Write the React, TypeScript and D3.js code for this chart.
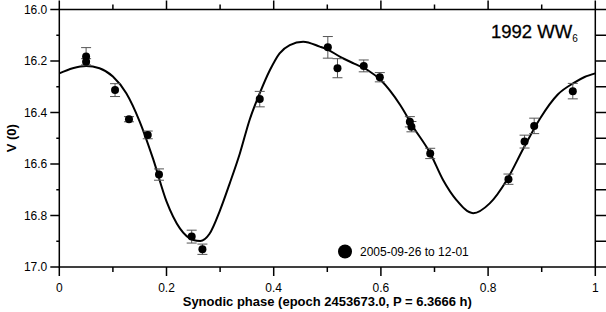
import React from 'react';
import * as d3 from 'd3';

// observed points: phase, reduced magnitude, error
const phases = [0.05, 0.05, 0.104, 0.13, 0.165, 0.186, 0.247, 0.267, 0.374, 0.501, 0.519, 0.568, 0.598, 0.654, 0.657, 0.692, 0.838, 0.868, 0.886, 0.958];
const mags = [16.183, 16.203, 16.313, 16.426, 16.487, 16.641, 16.882, 16.931, 16.348, 16.147, 16.228, 16.219, 16.263, 16.436, 16.455, 16.559, 16.659, 16.513, 16.452, 16.317];
const errs = [0.035, 0.012, 0.025, 0.01, 0.015, 0.022, 0.025, 0.02, 0.03, 0.042, 0.037, 0.023, 0.018, 0.02, 0.02, 0.02, 0.02, 0.025, 0.03, 0.03];

// fourier fit curve
const fitPhase = [0, 0.025, 0.05, 0.075, 0.1, 0.125, 0.15, 0.175, 0.2, 0.225, 0.25, 0.263, 0.28, 0.3, 0.318, 0.337, 0.355, 0.374, 0.393, 0.411, 0.43, 0.455, 0.486, 0.5, 0.525, 0.55, 0.575, 0.6, 0.636, 0.66, 0.692, 0.716, 0.741, 0.772, 0.803, 0.835, 0.866, 0.897, 0.93, 0.96, 0.98, 1];
const fitMag = [16.248, 16.228, 16.219, 16.228, 16.26, 16.325, 16.435, 16.58, 16.745, 16.85, 16.895, 16.899, 16.872, 16.779, 16.675, 16.558, 16.429, 16.325, 16.235, 16.17, 16.138, 16.125, 16.144, 16.155, 16.185, 16.21, 16.235, 16.275, 16.371, 16.455, 16.558, 16.662, 16.74, 16.791, 16.753, 16.662, 16.539, 16.423, 16.33, 16.285, 16.262, 16.248];

const xMajor = [0, 0.2, 0.4, 0.6, 0.8, 1];
const xMinor = [0.1, 0.3, 0.5, 0.7, 0.9];
const yMajor = [16.0, 16.2, 16.4, 16.6, 16.8, 17.0];
const yMinor = [16.1, 16.3, 16.5, 16.7, 16.9];

const W = 606, H = 312;
const FONT = '"Liberation Sans", Arial, Helvetica, sans-serif';

export default function App() {
  const x = d3.scaleLinear().domain([0, 1]).range([59.3, 595.3]);
  const y = d3.scaleLinear().domain([16, 17]).range([9.5, 267]);
  const [x0, x1] = x.range();
  const [y0, y1] = y.range();

  const line = d3.line<number>()
    .x((d, i) => x(fitPhase[i]))
    .y(d => y(d))
    .curve(d3.curveMonotoneX);

  const xfmt = (d: number) => (d === 0 || d === 1 ? String(d) : d.toFixed(1));

  return (
    <svg width={W} height={H} style={{ position: 'absolute', left: 0, top: 0, background: '#fff' }} fontFamily={FONT}>
      <rect x={0} y={0} width={W} height={H} fill="#fff" />

      {/* frame */}
      <g stroke="#000" strokeWidth={1.5} fill="none">
        <rect x={x0} y={y0} width={x1 - x0} height={y1 - y0} />
        {xMajor.map(d => (
          <g key={'xM' + d}>
            <line x1={x(d)} x2={x(d)} y1={y1} y2={y1 + 9} />
            <line x1={x(d)} x2={x(d)} y1={y0} y2={y0 - 9} />
          </g>
        ))}
        {xMinor.map(d => (
          <g key={'xm' + d}>
            <line x1={x(d)} x2={x(d)} y1={y1} y2={y1 + 5} />
            <line x1={x(d)} x2={x(d)} y1={y0} y2={y0 - 5} />
          </g>
        ))}
        {yMajor.map(d => (
          <g key={'yM' + d}>
            <line x1={x0} x2={x0 - 9} y1={y(d)} y2={y(d)} />
            <line x1={x1} x2={x1 + 11} y1={y(d)} y2={y(d)} />
          </g>
        ))}
        {yMinor.map(d => (
          <g key={'ym' + d}>
            <line x1={x0} x2={x0 - 3} y1={y(d)} y2={y(d)} />
            <line x1={x1} x2={x1 + 11} y1={y(d)} y2={y(d)} />
          </g>
        ))}
      </g>

      {/* tick labels */}
      <g fontSize={12} fill="#000">
        {yMajor.map(d => (
          <text key={'yl' + d} x={x0 - 12} y={y(d)} dy="0.35em" textAnchor="end">{d.toFixed(1)}</text>
        ))}
        {xMajor.map(d => (
          <text key={'xl' + d} x={x(d)} y={292} textAnchor="middle">{xfmt(d)}</text>
        ))}
      </g>

      {/* axis titles */}
      <text x={(x0 + x1) / 2} y={306} textAnchor="middle" fontSize={13} fontWeight="bold">
        Synodic phase (epoch 2453673.0, P = 6.3666 h)
      </text>
      <text transform={`translate(11,${(y0 + y1) / 2}) rotate(-90)`} textAnchor="middle" fontSize={13} fontWeight="bold" dy="0.35em">
        V (0)
      </text>

      {/* fit */}
      <path d={line(fitMag) || ''} fill="none" stroke="#000" strokeWidth={2} />

      {/* error bars */}
      <g stroke="#555" strokeWidth={1}>
        {phases.map((p, i) => {
          const cx = x(p);
          const ya = y(mags[i] - errs[i]);
          const yb = y(mags[i] + errs[i]);
          return (
            <g key={'e' + i}>
              <line x1={cx} x2={cx} y1={ya} y2={yb} />
              <line x1={cx - 5} x2={cx + 5} y1={ya} y2={ya} />
              <line x1={cx - 5} x2={cx + 5} y1={yb} y2={yb} />
            </g>
          );
        })}
      </g>

      {/* points */}
      <g fill="#000">
        {phases.map((p, i) => (
          <circle key={'p' + i} cx={x(p)} cy={y(mags[i])} r={4} />
        ))}
      </g>

      {/* object name */}
      <text x={491} y={37.5} fontSize={18.5} stroke="#000" strokeWidth={0.3}>
        1992 WW<tspan fontSize={10} dy={4} strokeWidth={0}>6</tspan>
      </text>

      {/* legend */}
      <circle cx={345} cy={251.5} r={7} fill="#000" />
      <text x={360} y={256} fontSize={12}>2005-09-26 to 12-01</text>
    </svg>
  );
}
